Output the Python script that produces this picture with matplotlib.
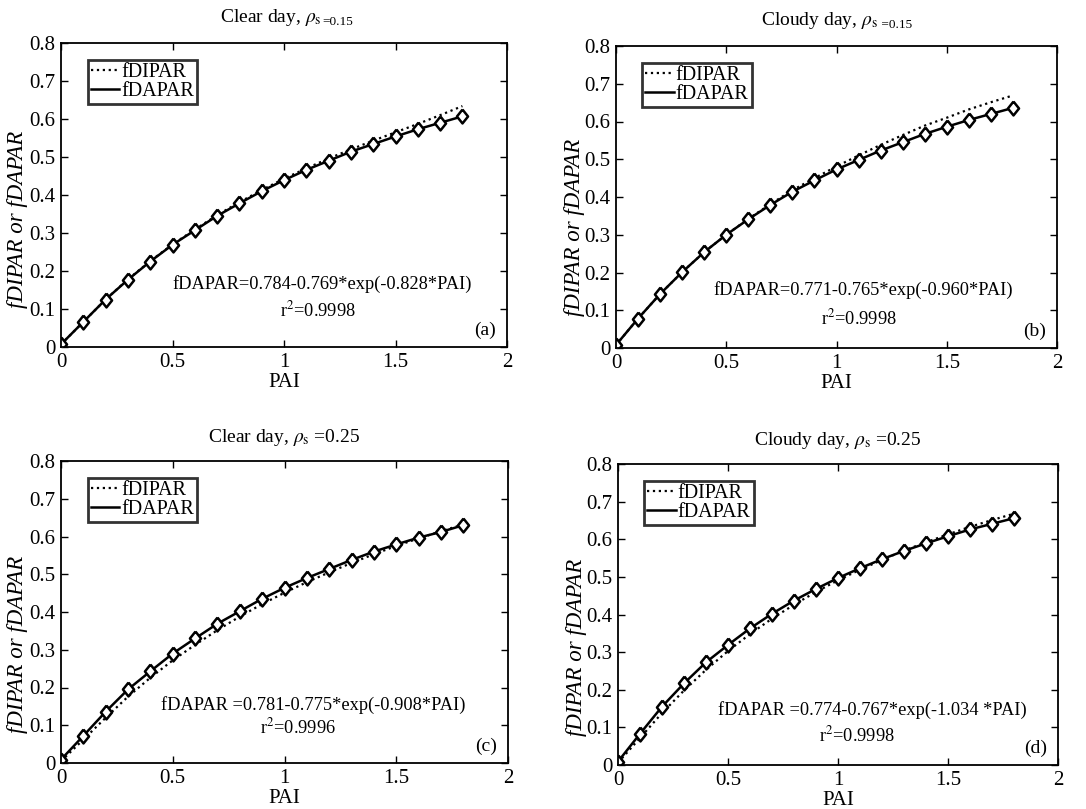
import numpy as np
import matplotlib
matplotlib.use("Agg")
import matplotlib.pyplot as plt
from matplotlib.ticker import FuncFormatter

plt.rcParams['font.family'] = ['Liberation Serif', 'DejaVu Serif']
plt.rcParams['mathtext.fontset'] = 'stix'

# PAI sample points (0 to 1.8, step 0.1)
pai = [0.0, 0.1, 0.2, 0.3, 0.4, 0.5, 0.6, 0.7, 0.8, 0.9,
       1.0, 1.1, 1.2, 1.3, 1.4, 1.5, 1.6, 1.7, 1.8]

# (a) clear day, rho_s = 0.15
fdapar_a = [0.007, 0.066, 0.125, 0.177, 0.225, 0.269, 0.307, 0.345, 0.378, 0.410,
            0.439, 0.466, 0.490, 0.514, 0.534, 0.554, 0.573, 0.590, 0.607]
fdipar_a = [0.007, 0.066, 0.125, 0.178, 0.226, 0.270, 0.309, 0.347, 0.381, 0.413,
            0.443, 0.470, 0.496, 0.520, 0.543, 0.565, 0.587, 0.610, 0.634]

# (b) cloudy day, rho_s = 0.15
fdapar_b = [0.008, 0.078, 0.143, 0.201, 0.254, 0.300, 0.341, 0.379, 0.414, 0.444,
            0.473, 0.498, 0.523, 0.545, 0.567, 0.586, 0.604, 0.620, 0.636]
fdipar_b = [0.008, 0.078, 0.143, 0.201, 0.254, 0.300, 0.342, 0.381, 0.418, 0.450,
            0.481, 0.510, 0.538, 0.564, 0.589, 0.610, 0.632, 0.651, 0.669]

# (c) clear day, rho_s = 0.25
fdapar_c = [0.009, 0.072, 0.136, 0.195, 0.243, 0.290, 0.330, 0.369, 0.402, 0.435,
            0.464, 0.490, 0.514, 0.538, 0.560, 0.579, 0.597, 0.612, 0.630]
fdipar_c = [0.005, 0.062, 0.120, 0.176, 0.226, 0.272, 0.313, 0.352, 0.388, 0.421,
            0.451, 0.479, 0.505, 0.530, 0.553, 0.575, 0.595, 0.614, 0.632]

# (d) cloudy day, rho_s = 0.25
fdapar_d = [0.009, 0.083, 0.155, 0.217, 0.273, 0.319, 0.363, 0.402, 0.437, 0.468,
            0.497, 0.523, 0.547, 0.569, 0.589, 0.608, 0.626, 0.641, 0.656]
fdipar_d = [0.006, 0.072, 0.138, 0.198, 0.253, 0.303, 0.348, 0.389, 0.426, 0.460,
            0.491, 0.519, 0.545, 0.570, 0.592, 0.613, 0.633, 0.651, 0.668]

titles_main = [r'Clear day, $\rho_{\rm s}$', r'Cloudy day, $\rho_{\rm s}$',
               r'Clear day, $\rho_{\rm s}$ =0.25', r'Cloudy day, $\rho_{\rm s}$ =0.25']
titles_small = ['=0.15', ' =0.15', None, None]
equations = ['fDAPAR=0.784-0.769*exp(-0.828*PAI)',
             'fDAPAR=0.771-0.765*exp(-0.960*PAI)',
             'fDAPAR =0.781-0.775*exp(-0.908*PAI)',
             'fDAPAR =0.774-0.767*exp(-1.034 *PAI)']
r2_texts = [r'r$^2$=0.9998', r'r$^2$=0.9998', r'r$^2$=0.9996', r'r$^2$=0.9998']
panel_labels = ['(a)', '(b)', '(c)', '(d)']

W, H = 1086, 809
fig = plt.figure(figsize=(W / 100, H / 100), dpi=100)

# axes boxes in pixels: left, right, top, bottom
boxes = [(61, 507, 43, 347), (616, 1057, 46, 348),
         (61, 508, 461, 763), (618, 1058, 464, 765)]
eq_pos = [(1.17, 0.165), (1.12, 0.154), (1.13, 0.154), (1.155, 0.146)]
r2_pos = [(1.15, 0.097), (1.10, 0.079), (1.06, 0.095), (1.085, 0.080)]
title_x = [0.585, 0.594, 0.5, 0.5]
ylabel_y = [0.42, 0.40, 0.394, 0.39]
ylabel_x = [-0.074, -0.07, -0.074, -0.07]

data = [(fdipar_a, fdapar_a), (fdipar_b, fdapar_b),
        (fdipar_c, fdapar_c), (fdipar_d, fdapar_d)]

diamond = [(0, 1), (0.8, 0), (0, -1), (-0.8, 0), (0, 1)]

for i, (l, r, t, b) in enumerate(boxes):
    ax = fig.add_axes([l / W, 1 - b / H, (r - l) / W, (b - t) / H])
    dipar, dapar = data[i]

    ax.plot(pai, dipar, linestyle=':', color='black', linewidth=1.6, label='fDIPAR')
    ax.plot(pai, dapar, linestyle='-', color='black', linewidth=1.8, label='fDAPAR')
    ax.plot(pai, dapar, linestyle='none', marker=diamond, markersize=10,
            markerfacecolor='white', markeredgecolor='black', markeredgewidth=1.8)

    ax.set_xlim(0, 2)
    ax.set_ylim(0, 0.8)
    ax.set_xticks([0, 0.5, 1, 1.5, 2])
    ax.set_yticks(np.arange(0, 0.81, 0.1))
    ax.xaxis.set_major_formatter(FuncFormatter(lambda v, p: '%g' % v))
    ax.yaxis.set_major_formatter(FuncFormatter(lambda v, p: '%g' % round(v, 1)))
    ax.tick_params(direction='in', top=True, right=True, length=5, width=1,
                   labelsize=15, pad=4)
    for sp in ax.spines.values():
        sp.set_linewidth(1.3)

    ax.set_xlabel('PAI', fontsize=15, labelpad=1)
    ax.set_ylabel('fDIPAR or fDAPAR', fontsize=16.5, style='italic')
    ax.yaxis.set_label_coords(ylabel_x[i], ylabel_y[i])

    leg = ax.legend(loc='upper left', bbox_to_anchor=(0.06, 0.944), borderaxespad=0,
                    fontsize=14.5, frameon=True, fancybox=False, handlelength=1.4,
                    handletextpad=0.1, borderpad=0.15, labelspacing=0.0)
    leg.get_frame().set_edgecolor('black')
    leg.get_frame().set_linewidth(2.0)

    ax.text(eq_pos[i][0], eq_pos[i][1], equations[i], ha='center', va='center', fontsize=13.2)
    ax.text(r2_pos[i][0], r2_pos[i][1], r2_texts[i], ha='center', va='center', fontsize=13.2)
    ax.text(0.975, 0.025, panel_labels[i], transform=ax.transAxes, ha='right',
            va='bottom', fontsize=14)

    if titles_small[i] is None:
        ax.text(0.5, 1.062, titles_main[i], transform=ax.transAxes, ha='center',
                va='baseline', fontsize=14)
    else:
        t1 = ax.text(title_x[i], 1.07, titles_main[i], transform=ax.transAxes,
                     ha='right', va='baseline', fontsize=14)
        ax.annotate(titles_small[i], xy=(1, 0), xycoords=t1, va='bottom',
                    ha='left', fontsize=9.5)

plt.savefig('out.png', dpi=100)
